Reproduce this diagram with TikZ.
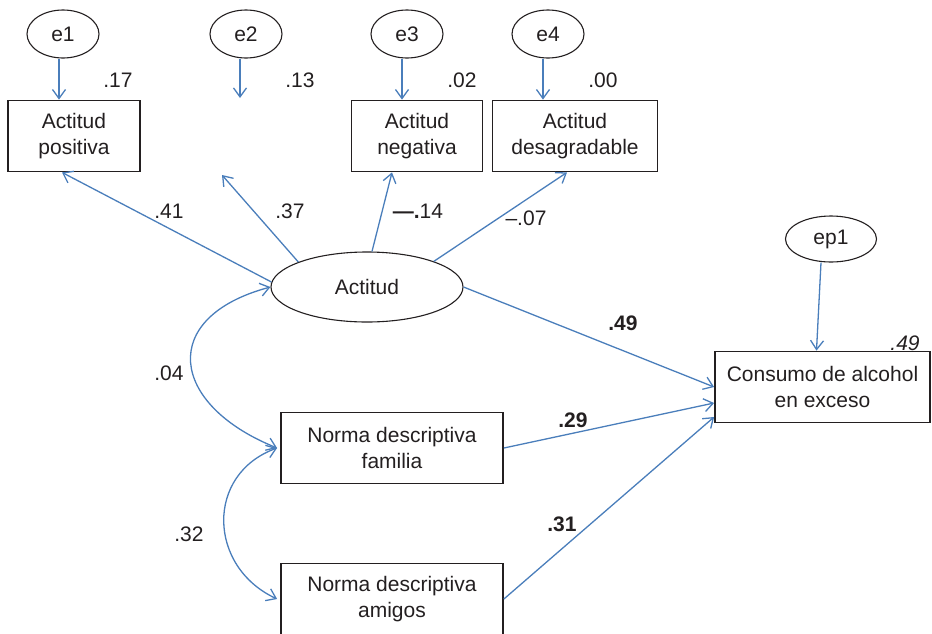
\documentclass[tikz,border=0pt]{standalone}
\usepackage{fontspec}
\setmainfont{Liberation Sans}
\usetikzlibrary{shapes.geometric,arrows.meta}
\definecolor{pathblue}{RGB}{74,126,187}
\definecolor{ink}{RGB}{35,31,32}
\tikzset{
  var/.style={draw=ink,line width=0.9pt,minimum height=35.5pt,align=center,inner sep=0pt},
  err/.style={draw=ink,ellipse,line width=0.55pt,minimum width=36pt,minimum height=24pt,inner sep=0pt},
  link/.style={draw=pathblue,line width=0.65pt,-{Straight Barb[length=4.5pt,width=6.5pt]}},
  cov/.style={link,{Straight Barb[length=4.5pt,width=6.5pt]}-{Straight Barb[length=4.5pt,width=6.5pt]}}
}
\begin{document}
\begin{tikzpicture}[x=0.5pt,y=-0.5pt,font=\fontsize{10.5}{13}\selectfont,text=ink]
  \useasboundingbox (0,0) rectangle (932,633);
  % errores e indicadores
  \node[err] (e1) at (63,34) {e1};
  \node[err] (e2) at (246,34) {e2};
  \node[err] (e3) at (407,34) {e3};
  \node[err] (e4) at (548,34) {e4};
  \node[var,minimum width=66pt] (pos) at (74,136) {Actitud\\positiva};
  \node[var,minimum width=65.5pt] (neg) at (417,136) {Actitud\\negativa};
  \node[var,minimum width=82.5pt] (des) at (575,136) {Actitud\\desagradable};
  \coordinate (neu) at (240,98);
  \coordinate (neuB) at (222,175);
  % latente y predictores
  \node[draw=ink,ellipse,line width=0.55pt,minimum width=96pt,minimum height=35pt] (act) at (367,287) {Actitud};
  \node[var,minimum width=111pt] (fam) at (392,448) {Norma descriptiva\\familia};
  \node[var,minimum width=111pt] (ami) at (392,599) {Norma descriptiva\\amigos};
  \node[var,minimum width=107.5pt] (cons) at (822.5,387) {Consumo de alcohol\\en exceso};
  \node[err,minimum width=45.5pt,minimum height=23pt] (ep1) at (831,239) {ep1};
  % flechas de error
  \draw[link] ([xshift=-2pt]e1.south) -- ([xshift=-7.5pt]pos.north);
  \draw[link] ([xshift=-3pt]e2.south) -- (neu);
  \draw[link] ([xshift=-2.5pt]e3.south) -- ([xshift=-7.5pt]neg.north);
  \draw[link] ([xshift=-2.5pt]e4.south) -- ([xshift=-16pt]des.north);
  \draw[link] ([xshift=-5pt]ep1.south) -- ([xshift=-3pt]cons.north);
  % cargas
  \draw[link] (act.177) -- ([xshift=-6pt]pos.south);
  \draw[link] (act.160) -- (neuB);
  \draw[link] (act.82) -- ([xshift=-12.5pt]neg.south);
  \draw[link] (act.21) -- ([xshift=-4pt]des.south);
  % efectos
  \draw[link] (act.east) -- (cons.west);
  \draw[link] (fam.east) -- ([yshift=-8pt]cons.west);
  \draw[link] (ami.east) -- ([yshift=-15pt]cons.west);
  % covarianzas
  \draw[cov] (act.west) to[out=195,in=158,looseness=1.85] ([xshift=-1.5pt]fam.west);
  \draw[cov] ([xshift=-1.5pt]fam.west) to[out=200,in=155,looseness=1.3] ([xshift=-1.5pt]ami.west);
  % coeficientes
  \node (r1) at (118,80) {.17};
  \node (r2) at (300,80) {.13};
  \node (r3) at (462,80) {.02};
  \node (r4) at (603,80) {.00};
  \node (l1) at (169,211) {.41};
  \node (l2) at (290,211) {.37};
  \node (l3) at (418,211) {\textbf{\textemdash.}14};
  \node (l4) at (526,218) {\textendash.07};
  \node (c1) at (169,373) {.04};
  \node (c2) at (189,534) {.32};
  \node[font=\fontsize{10.5}{13}\selectfont\bfseries] (b1) at (623,323) {.49};
  \node[font=\fontsize{10.5}{13}\selectfont\bfseries] (b2) at (573,420) {.29};
  \node[font=\fontsize{10.5}{13}\selectfont\bfseries] (b3) at (562,524) {.31};
  \node[font=\fontsize{10.5}{13}\selectfont\itshape] (rc) at (905,343) {.49};
\end{tikzpicture}
\end{document}
